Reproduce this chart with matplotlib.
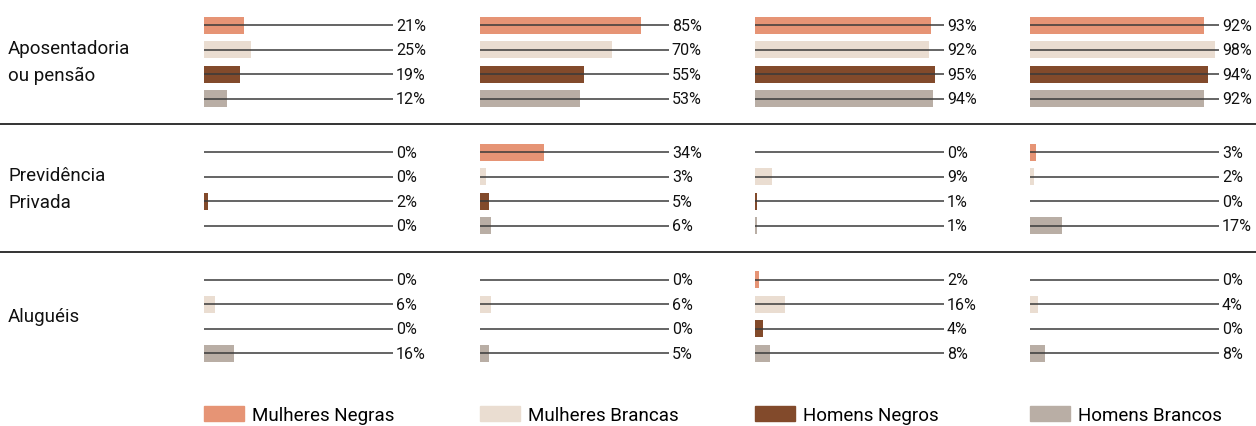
import matplotlib.pyplot as plt
from matplotlib.patches import Patch
from matplotlib.lines import Line2D

plt.rcParams['font.family'] = ['Roboto', 'DejaVu Sans']

# dados
categorias = ['Aposentadoria\nou pensão', 'Previdência\nPrivada', 'Aluguéis']
series = ['Mulheres Negras', 'Mulheres Brancas', 'Homens Negros', 'Homens Brancos']
cores = ['#E69475', '#EADDD1', '#824A2B', '#B9AEA5']

# valores[linha][coluna] -> 4 séries
aposentadoria = [[21, 25, 19, 12], [85, 70, 55, 53], [93, 92, 95, 94], [92, 98, 94, 92]]
previdencia = [[0, 0, 2, 0], [34, 3, 5, 6], [0, 9, 1, 1], [3, 2, 0, 17]]
alugueis = [[0, 6, 0, 16], [0, 6, 0, 5], [2, 16, 4, 8], [0, 4, 0, 8]]
valores = [aposentadoria, previdencia, alugueis]

W, H = 1256, 427
fig = plt.figure(figsize=(W / 100, H / 100), dpi=100)

fs_pct = 11.5
fs_txt = 13.5

col_x = [204, 480, 755, 1030]   # inicio de cada coluna (px)
col_w = 189
row_top = [14, 141, 268.5]
row_h = 98

for r in range(3):
    for c in range(4):
        ax = fig.add_axes([col_x[c] / W, 1 - (row_top[r] + row_h) / H, col_w / W, row_h / H])
        vals = valores[r][c]
        ys = range(len(vals))
        ax.barh(ys, vals, height=0.7, color=cores, zorder=1)
        ax.hlines(ys, 0, 100, color='#3a3a3a', lw=1.1, zorder=2)
        for y, v in zip(ys, vals):
            ax.annotate(f'{v}%', (100, y), xytext=(2, 0), textcoords='offset points',
                        ha='left', va='center', fontsize=fs_pct, color='#111111',
                        annotation_clip=False)
        ax.set_xlim(0, 100)
        ax.set_ylim(3.5, -0.5)
        ax.axis('off')
    fig.text(8 / W, 1 - (row_top[r] + row_h / 2 - 0.5) / H, categorias[r], ha='left',
             va='center', fontsize=fs_txt, color='#111111', linespacing=1.6)

# separadores
for y in [125, 253]:
    fig.add_artist(Line2D([0, 1], [1 - y / H, 1 - y / H], color='#111111', lw=1.2))

# legenda
for c in range(4):
    fig.legend(handles=[Patch(color=cores[c], label=series[c])], loc='center left',
               bbox_to_anchor=(col_x[c] / W, 1 - 416 / H), frameon=False, fontsize=fs_txt,
               handlelength=40 / (fs_txt * 1.39), handleheight=0.9,
               handletextpad=8 / (fs_txt * 1.39), borderpad=0, borderaxespad=0)

fig.savefig('out.png', dpi=100)
